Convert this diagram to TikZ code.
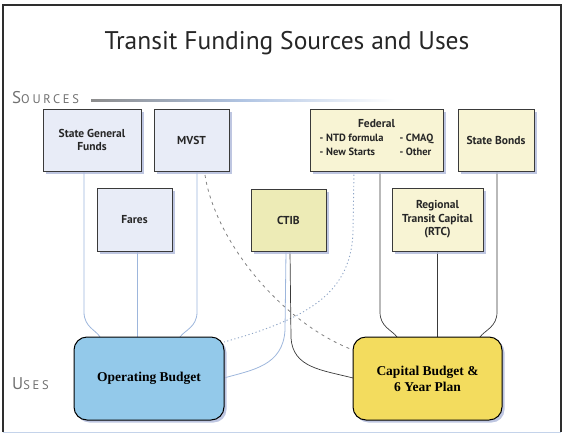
\documentclass[tikz,border=0pt]{standalone}
\usepackage{fontspec}
\setmainfont{PT Sans}
\newfontfamily\labelfont[LetterSpace=22]{PT Sans}
\newfontfamily\budgetfont{Liberation Serif}
\usetikzlibrary{calc,shadows,backgrounds}
\definecolor{srcblue}{HTML}{E8ECF7}
\definecolor{srcyellow}{HTML}{F8F4D4}
\definecolor{ctibcol}{HTML}{EDEBB6}
\definecolor{opcol}{HTML}{93C9EA}
\definecolor{capcol}{HTML}{F3DC5E}
\definecolor{lineblue}{HTML}{9DB6DC}
\definecolor{linedark}{HTML}{3A3A3A}
\definecolor{shadowcol}{HTML}{AEB8DA}
\definecolor{framecol}{HTML}{2E2E2E}
\definecolor{labelgray}{HTML}{707070}
\tikzset{
  srcbox/.style={draw=linedark, line width=0.9pt, inner sep=0pt, outer sep=0pt,
    align=center, font=\bfseries\fontsize{11.5}{13.5}\selectfont, text=black!85,
    drop shadow={shadow xshift=2.5pt, shadow yshift=-2.5pt, fill=shadowcol, opacity=0.8}},
  usebox/.style={draw=black, line width=1pt, rounded corners=13pt, inner sep=0pt, outer sep=0pt,
    align=center, font=\budgetfont\bfseries\fontsize{13.5}{16}\selectfont,
    drop shadow={shadow xshift=2.5pt, shadow yshift=-2.5pt, fill=shadowcol, opacity=0.8}},
  blueline/.style={draw=lineblue, line width=0.8pt},
  darkline/.style={draw=linedark, line width=0.7pt},
  grayline/.style={draw=black!50, line width=0.8pt, dash pattern=on 3pt off 4pt},
  bluedots/.style={draw=lineblue!90!black, line width=0.9pt, dash pattern=on 1.2pt off 2.5pt},
  caption/.style={text=labelgray, anchor=base west, inner sep=0pt}
}
\begin{document}
\begin{tikzpicture}[x=1pt,y=-1pt]
\useasboundingbox (0,0) rectangle (564,434);
% frame
\draw[framecol, line width=1.8pt] (3,432) -- (3,5) -- (561,5) -- (561,432);
\draw[lineblue!60, line width=1pt] (3,432) -- (561,432);

% title
\node[font=\fontsize{25.5}{30}\selectfont, text=black!85] (title) at (287,43) {Transit Funding Sources and Uses};

% section labels
\node[caption] (sources) at (12,103) {\labelfont{\fontsize{17}{17}\selectfont S}{\fontsize{12.5}{13}\selectfont OURCES}};
\node[caption] (uses) at (12,389) {\labelfont{\fontsize{17}{17}\selectfont U}{\fontsize{12.5}{13}\selectfont SES}};
\shade[left color=black!45, right color=white, middle color=lineblue!80] (91,99) rectangle (395,101);

% source boxes
\node[srcbox, fill=srcblue, minimum width=98pt, minimum height=62pt] (sgf) at (92,140) {State General\\Funds};
\node[srcbox, fill=srcblue, minimum width=75pt, minimum height=62pt] (mvst) at (191.5,140) {MVST};
\node[srcbox, fill=srcblue, minimum width=75pt, minimum height=63pt] (fares) at (134.5,219.5) {Fares};
\node[srcbox, fill=ctibcol, minimum width=75pt, minimum height=62pt] (ctib) at (288.5,220) {CTIB};
\node[srcbox, fill=srcyellow, minimum width=133pt, minimum height=62pt] (fed) at (376.5,140)
  {Federal\\[3pt]{\fontsize{10.5}{14}\selectfont\begin{tabular}{@{}l@{\hspace{16pt}}l@{}}- NTD formula & - CMAQ\\- New Starts & - Other\end{tabular}}};
\node[srcbox, fill=srcyellow, minimum width=76pt, minimum height=62pt] (bonds) at (496,140) {State Bonds};
\node[srcbox, fill=srcyellow, minimum width=91pt, minimum height=63pt] (rtc) at (437.5,219.5) {Regional\\Transit Capital\\(RTC)};

% uses
\node[usebox, fill=opcol, minimum width=150pt, minimum height=83pt] (op) at (149,378.5) {Operating Budget};
\node[usebox, fill=capcol, minimum width=149pt, minimum height=83pt] (cap) at (427.5,378.5) {Capital Budget \&\\6 Year Plan};

\begin{scope}[on background layer]
% connectors to operating budget
\draw[blueline] ($(sgf.south west)+(41,0)$) -- (84,312) .. controls (84,327) and (96,330) .. ($(op.north west)+(26,0)$);
\draw[blueline] ($(fares.south west)+(40,0)$) -- ($(op.north west)+(63,0)$);
\draw[blueline] ($(mvst.south west)+(43,0)$) -- (197,312) .. controls (197,327) and (185,330) .. ($(op.north west)+(106,0)$);
\draw[blueline] ($(ctib.south west)+(35,0)$) -- (285,330) .. controls (283,366) and (252,370) .. ($(op.north east)+(0,41)$);
\draw[bluedots] ($(fed.south west)+(44,0)$) -- (353,230) .. controls (352,292) and (310,318) .. ($(op.north east)+(0,5)$);
% connectors to capital budget
\draw[grayline] ($(mvst.south west)+(51,4)$) .. controls (215,240) and (280,322) .. ($(cap.north west)+(0,13)$);
\draw[darkline] ($(ctib.south west)+(39,0)$) -- (291,338) .. controls (293,368) and (322,370) .. ($(cap.north west)+(0,41)$);
\draw[darkline] ($(fed.south west)+(70,0)$) -- (380,312) .. controls (380,327) and (392,330) .. ($(cap.north west)+(44,0)$);
\draw[darkline] ($(rtc.south west)+(45,0)$) -- ($(cap.north west)+(84,0)$);
\draw[darkline] ($(bonds.south west)+(39,0)$) -- (497,312) .. controls (497,327) and (485,330) .. ($(cap.north west)+(127,0)$);
\end{scope}
\end{tikzpicture}
\end{document}
